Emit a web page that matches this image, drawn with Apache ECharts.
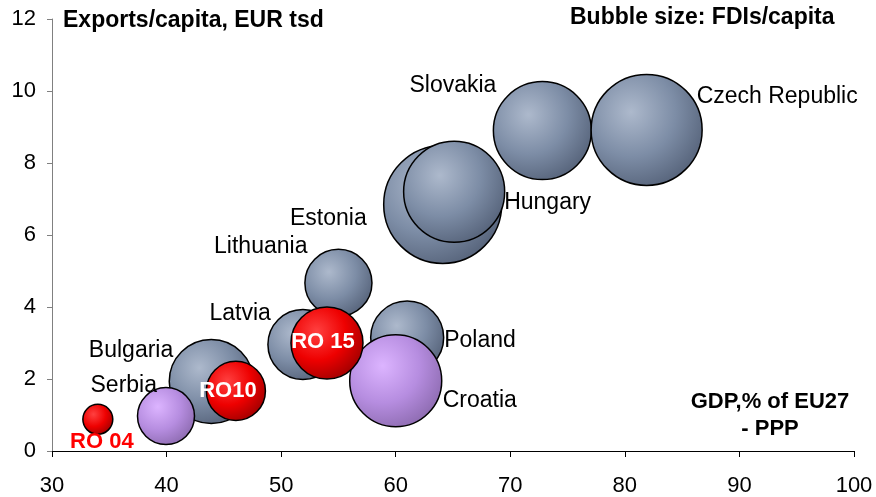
<!DOCTYPE html>
<html>
<head>
<meta charset="utf-8">
<script src="https://cdn.jsdelivr.net/npm/echarts@6/dist/echarts.min.js"></script>
<style>html,body{margin:0;padding:0;background:#fff}#main{width:876px;height:497px}</style>
</head>
<body>
<div id="main"></div>
<script>
// EU peers (grey bubbles)
var grayNames=['Latvia','Lithuania','Bulgaria','Estonia','Hungary','Slovakia','Czech Republic','Poland'];
var grayGdp=[51.9,55.0,43.9,64.1,65.1,72.8,81.9,61.0];
var grayExp=[2.96,4.67,1.93,6.85,7.2,8.9,8.92,3.15];
var grayFdi=[3.06,2.81,4.41,8.7,6.38,6.0,7.7,3.33];
// non-EU / newer (purple bubbles)
var purpleNames=['Serbia','Croatia'];
var purpleGdp=[39.95,60.0];
var purpleExp=[0.97,1.95];
var purpleFdi=[2.03,5.29];
// Romania over time (red bubbles)
var redNames=['RO 04','RO10','RO 15'];
var redGdp=[34.0,46.05,54.0];
var redExp=[0.88,1.67,3.0];
var redFdi=[0.56,2.18,3.24];

var xTicks=[30,40,50,60,70,80,90,100];
var yTicks=[0,2,4,6,8,10,12];

// label placement (offset from bubble centre)
var labelPos={
  'Czech Republic':['left',50,-33],
  'Slovakia':['right',-46,-45],
  'Hungary':['left',50,11],
  'Estonia':['right',-76,14],
  'Lithuania':['right',-31,-36],
  'Latvia':['right',-32,-31],
  'Poland':['left',37,3],
  'Croatia':['left',47,20],
  'Bulgaria':['right',-38,-31],
  'Serbia':['right',-9,-30],
  'RO 15':['center',-4,-1],
  'RO10':['center',-8,0],
  'RO 04':['center',4,23]
};

var FONT='Liberation Sans';

function grad(c0,c1,c2){
  return {type:'radial',x:0.36,y:0.34,r:0.72,colorStops:[
    {offset:0,color:c0},{offset:0.55,color:c1},{offset:1,color:c2}]};
}

function build(names,gdp,exp,fdi,txtColor,bold){
  var out=[];
  for(var i=0;i<names.length;i++){
    var p=labelPos[names[i]];
    out.push({
      name:names[i],
      value:[gdp[i],exp[i],fdi[i]],
      label:{show:true,position:'inside',align:p[0],verticalAlign:'middle',
        offset:[p[1],p[2]],formatter:'{b}',color:txtColor,
        fontFamily:FONT,fontSize:bold?22:23,fontWeight:bold?'bold':'normal'}
    });
  }
  return out;
}

var redData=build(redNames,redGdp,redExp,redFdi,'#ffffff',true);
redData[0].label.color='#ff0000';

var myChart=echarts.init(document.getElementById('main'));
var option={
  animation:false,
  backgroundColor:'#ffffff',
  grid:{left:52,right:22,top:19,bottom:44,containLabel:false},
  xAxis:{
    type:'value',min:30,max:100,interval:10,
    axisLine:{show:true,lineStyle:{color:'#000',width:1}},
    axisTick:{show:true,inside:false,length:6,lineStyle:{color:'#000'}},
    axisLabel:{margin:24,color:'#000',fontFamily:FONT,fontSize:22,
      formatter:function(v){return xTicks.indexOf(v)>=0?String(v):'';}},
    splitLine:{show:false}
  },
  yAxis:{
    type:'value',min:0,max:12,interval:2,
    axisLine:{show:true,lineStyle:{color:'#808080',width:1}},
    axisTick:{show:true,inside:false,length:5,lineStyle:{color:'#808080'}},
    axisLabel:{margin:16,color:'#000',fontFamily:FONT,fontSize:22,
      formatter:function(v){return yTicks.indexOf(v)>=0?String(v):'';}},
    splitLine:{show:false}
  },
  series:[
    {type:'scatter',name:'peers',data:build(grayNames,grayGdp,grayExp,grayFdi,'#000',false),
      symbolSize:function(v){return 40*Math.sqrt(v[2]);},
      itemStyle:{color:grad('#adb9cc','#7d8da6','#56637a'),borderColor:'#000',borderWidth:1.5,opacity:1}},
    {type:'scatter',name:'other',data:build(purpleNames,purpleGdp,purpleExp,purpleFdi,'#000',false),
      symbolSize:function(v){return 40*Math.sqrt(v[2]);},
      itemStyle:{color:grad('#dcb4ff','#b68de0','#8d6bb0'),borderColor:'#000',borderWidth:1.5,opacity:1}},
    {type:'scatter',name:'romania',data:redData,
      symbolSize:function(v){return 40*Math.sqrt(v[2]);},
      itemStyle:{color:grad('#ff4040','#ee0000','#a00000'),borderColor:'#000',borderWidth:1.5,opacity:1}}
  ],
  graphic:[
    {type:'text',left:63,top:9,style:{text:'Exports/capita, EUR tsd',fill:'#000',
      font:'bold 23px "Liberation Sans"'}},
    {type:'text',left:570,top:6,style:{text:'Bubble size: FDIs/capita',fill:'#000',
      font:'bold 23px "Liberation Sans"'}},
    {type:'text',x:770,y:402,style:{text:'GDP,% of EU27',fill:'#000',align:'center',verticalAlign:'middle',
      font:'bold 22px "Liberation Sans"'}},
    {type:'text',x:770,y:429,style:{text:'- PPP',fill:'#000',align:'center',verticalAlign:'middle',
      font:'bold 22px "Liberation Sans"'}}
  ]
};
myChart.setOption(option);
</script>
</body>
</html>
